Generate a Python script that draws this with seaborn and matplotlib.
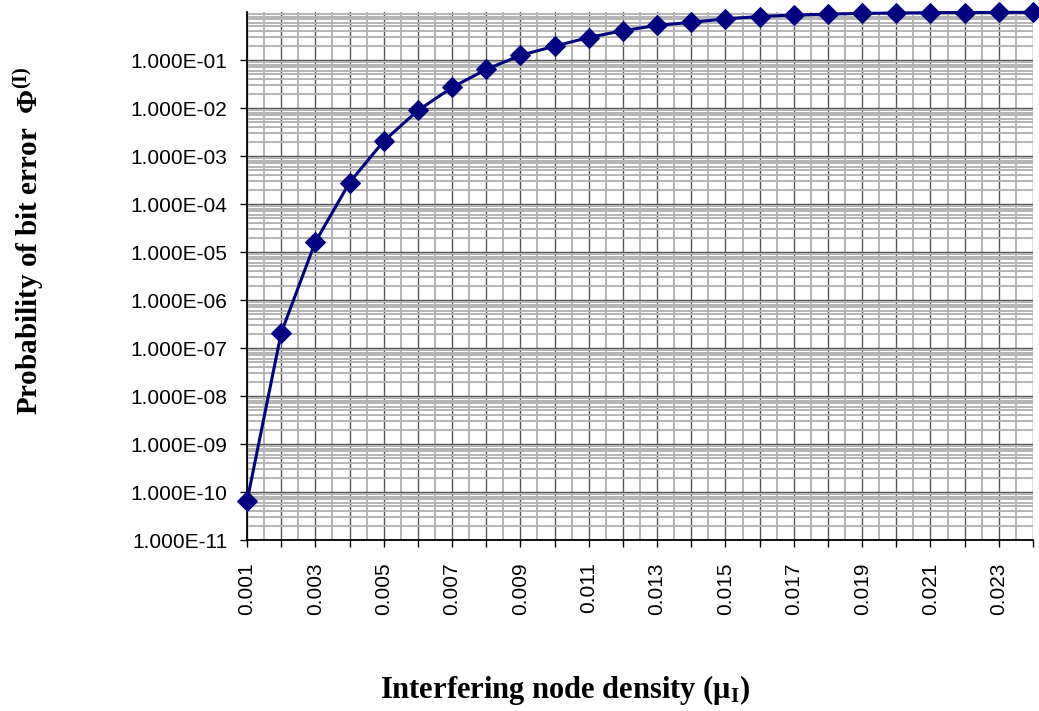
import numpy as np
import pandas as pd
from matplotlib import pyplot as plt
from matplotlib import ticker
import seaborn as sns
import warnings
warnings.simplefilter('ignore')

# データ
density = [0.001, 0.002, 0.003, 0.004, 0.005, 0.006, 0.007, 0.008,
           0.009, 0.010, 0.011, 0.012, 0.013, 0.014, 0.015, 0.016,
           0.017, 0.018, 0.019, 0.020, 0.021, 0.022, 0.023, 0.024]
p_error = [6.4e-11, 2.06e-7, 1.62e-5, 2.79e-4, 2.04e-3, 8.87e-3, 2.68e-2, 6.37e-2,
           0.125, 0.194, 0.294, 0.409, 0.525, 0.61, 0.718, 0.805,
           0.861, 0.904, 0.935, 0.953, 0.967, 0.975, 0.98, 0.985]
y_ticks = [10.0 ** k for k in range(-11, 0)]

df = pd.DataFrame({'density': density, 'p': p_error})

sns.set_style('white')
plt.rcParams['font.family'] = ['Liberation Sans', 'DejaVu Sans']
plt.rcParams['text.color'] = 'black'
plt.rcParams['xtick.color'] = 'black'
plt.rcParams['ytick.color'] = 'black'
plt.rcParams['mathtext.fontset'] = 'custom'
plt.rcParams['mathtext.rm'] = 'Liberation Serif:bold'
plt.rcParams['mathtext.it'] = 'Liberation Serif:bold'
plt.rcParams['mathtext.bf'] = 'Liberation Serif:bold'

fig = plt.figure(figsize=(10.39, 7.11), dpi=100)
ax = fig.add_axes([247 / 1039, 1 - 540 / 711, (1033 - 247) / 1039, (540 - 12) / 711])

sns.lineplot(data=df, x='density', y='p', ax=ax, color='#000080',
             marker='D', markersize=10.5, markeredgecolor='#000080',
             linewidth=2.2, zorder=5, clip_on=False)

ax.set_yscale('log')
ax.set_xlim(0.001, 0.024)
ax.set_ylim(1e-11, 1)

# 目盛り
ax.set_yticks(y_ticks)
ax.yaxis.set_major_formatter(ticker.FuncFormatter(lambda v, p: f'{v:.3E}'))
ax.yaxis.set_minor_locator(ticker.LogLocator(base=10, subs=np.arange(2, 10), numticks=100))
ax.yaxis.set_minor_formatter(ticker.NullFormatter())

ax.xaxis.set_major_locator(ticker.MultipleLocator(0.001))
ax.xaxis.set_minor_locator(ticker.MultipleLocator(0.0005))


def x_fmt(v, p):
    n = int(round(v * 1000))
    return f'{v:.3f}' if n % 2 == 1 else ''


ax.xaxis.set_major_formatter(ticker.FuncFormatter(x_fmt))
ax.tick_params(axis='x', which='major', direction='out', length=5, width=1,
               color='black', labelcolor='black', labelsize=15, labelrotation=90,
               pad=11, bottom=True)
ax.tick_params(axis='y', which='major', direction='out', length=5, width=1,
               color='black', labelcolor='black', labelsize=15, pad=9, left=True)
ax.tick_params(which='minor', length=0)

# グリッド
ax.grid(True, which='major', axis='both', color='#555555', linewidth=1.0)
ax.grid(True, which='minor', axis='both', color='#b4b4b4', linewidth=1.4)
ax.set_axisbelow(True)

for s in ['top', 'right']:
    ax.spines[s].set_visible(False)
for s in ['left', 'bottom']:
    ax.spines[s].set_color('black')
    ax.spines[s].set_linewidth(1.3)

ax.set_xlabel('')
ax.set_ylabel('')

fig.text(565 / 1039, 1 - 690 / 711, r'Interfering node density ($\mu_\mathrm{I}$)',
         ha='center', va='center', fontsize=22, fontweight='bold',
         family='Liberation Serif', color='black')
fig.text(29 / 1039, 1 - 241 / 711, r'Probability of bit error  $\Phi^{(\mathrm{I})}$',
         ha='center', va='center', rotation=90, fontsize=21, fontweight='bold',
         family='Liberation Serif', color='black')

plt.savefig('out.png', dpi=100)
